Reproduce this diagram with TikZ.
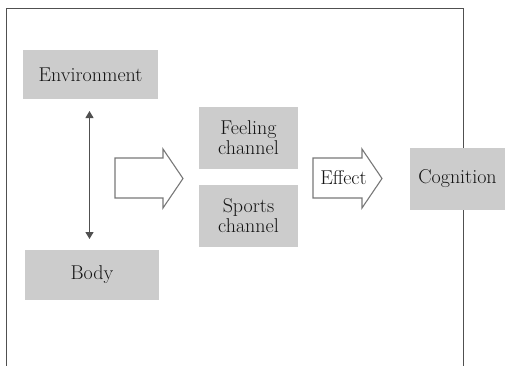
\documentclass[tikz,border=0pt]{standalone}
\usetikzlibrary{arrows.meta}
\definecolor{boxgray}{RGB}{204,204,204}
\definecolor{framegray}{RGB}{80,80,80}
\definecolor{arrowgray}{RGB}{120,120,120}
\definecolor{txt}{RGB}{20,20,20}
\tikzset{
  box/.style={fill=boxgray, draw=none, inner sep=0pt, align=center, text=txt,
    font=\fontsize{20}{20}\selectfont},
  hollow/.style={draw=arrowgray, fill=white, line width=1.1pt, line join=miter},
  link/.style={draw=framegray, line width=1.1pt, {Triangle[width=8pt,length=7pt]}-{Triangle[width=8pt,length=7pt]}},
  lbl/.style={inner sep=0pt, text=txt, font=\fontsize{20}{20}\selectfont}
}
\begin{document}
\begin{tikzpicture}[x=1pt,y=-1pt]
\useasboundingbox (0,0) rectangle (505,365);
% frame
\draw[framegray, line width=0.9pt] (6,366) -- (6,8) -- (463,8) -- (463,366);
% boxes
\node[box, minimum width=135, minimum height=49] (env) at (90.5,74.5) {Environment};
\node[box, minimum width=134, minimum height=50] (body) at (92,275) {Body};
\node[box, minimum width=99, minimum height=62] (feel) at (248.5,138) {Feeling\\channel};
\node[box, minimum width=99, minimum height=62] (sport) at (248.5,216) {Sports\\channel};
\node[box, minimum width=95, minimum height=62] (cog) at (457.5,179) {Cognition};
% double arrow
\coordinate (a1) at (89.5,111);
\coordinate (a2) at (89.5,239);
\draw[link] (a1) -- (a2);
% hollow arrow 1
\draw[hollow] (115,158) -- (163,158) -- (163,149) -- (183,178.5) -- (163,208) -- (163,198) -- (115,198) -- cycle;
% effect arrow
\draw[hollow] (313,158) -- (362,158) -- (362,149) -- (382,178.5) -- (362,208) -- (362,198) -- (313,198) -- cycle;
\node[lbl] (eff) at (343.5,178) {Effect};
\end{tikzpicture}
\end{document}
